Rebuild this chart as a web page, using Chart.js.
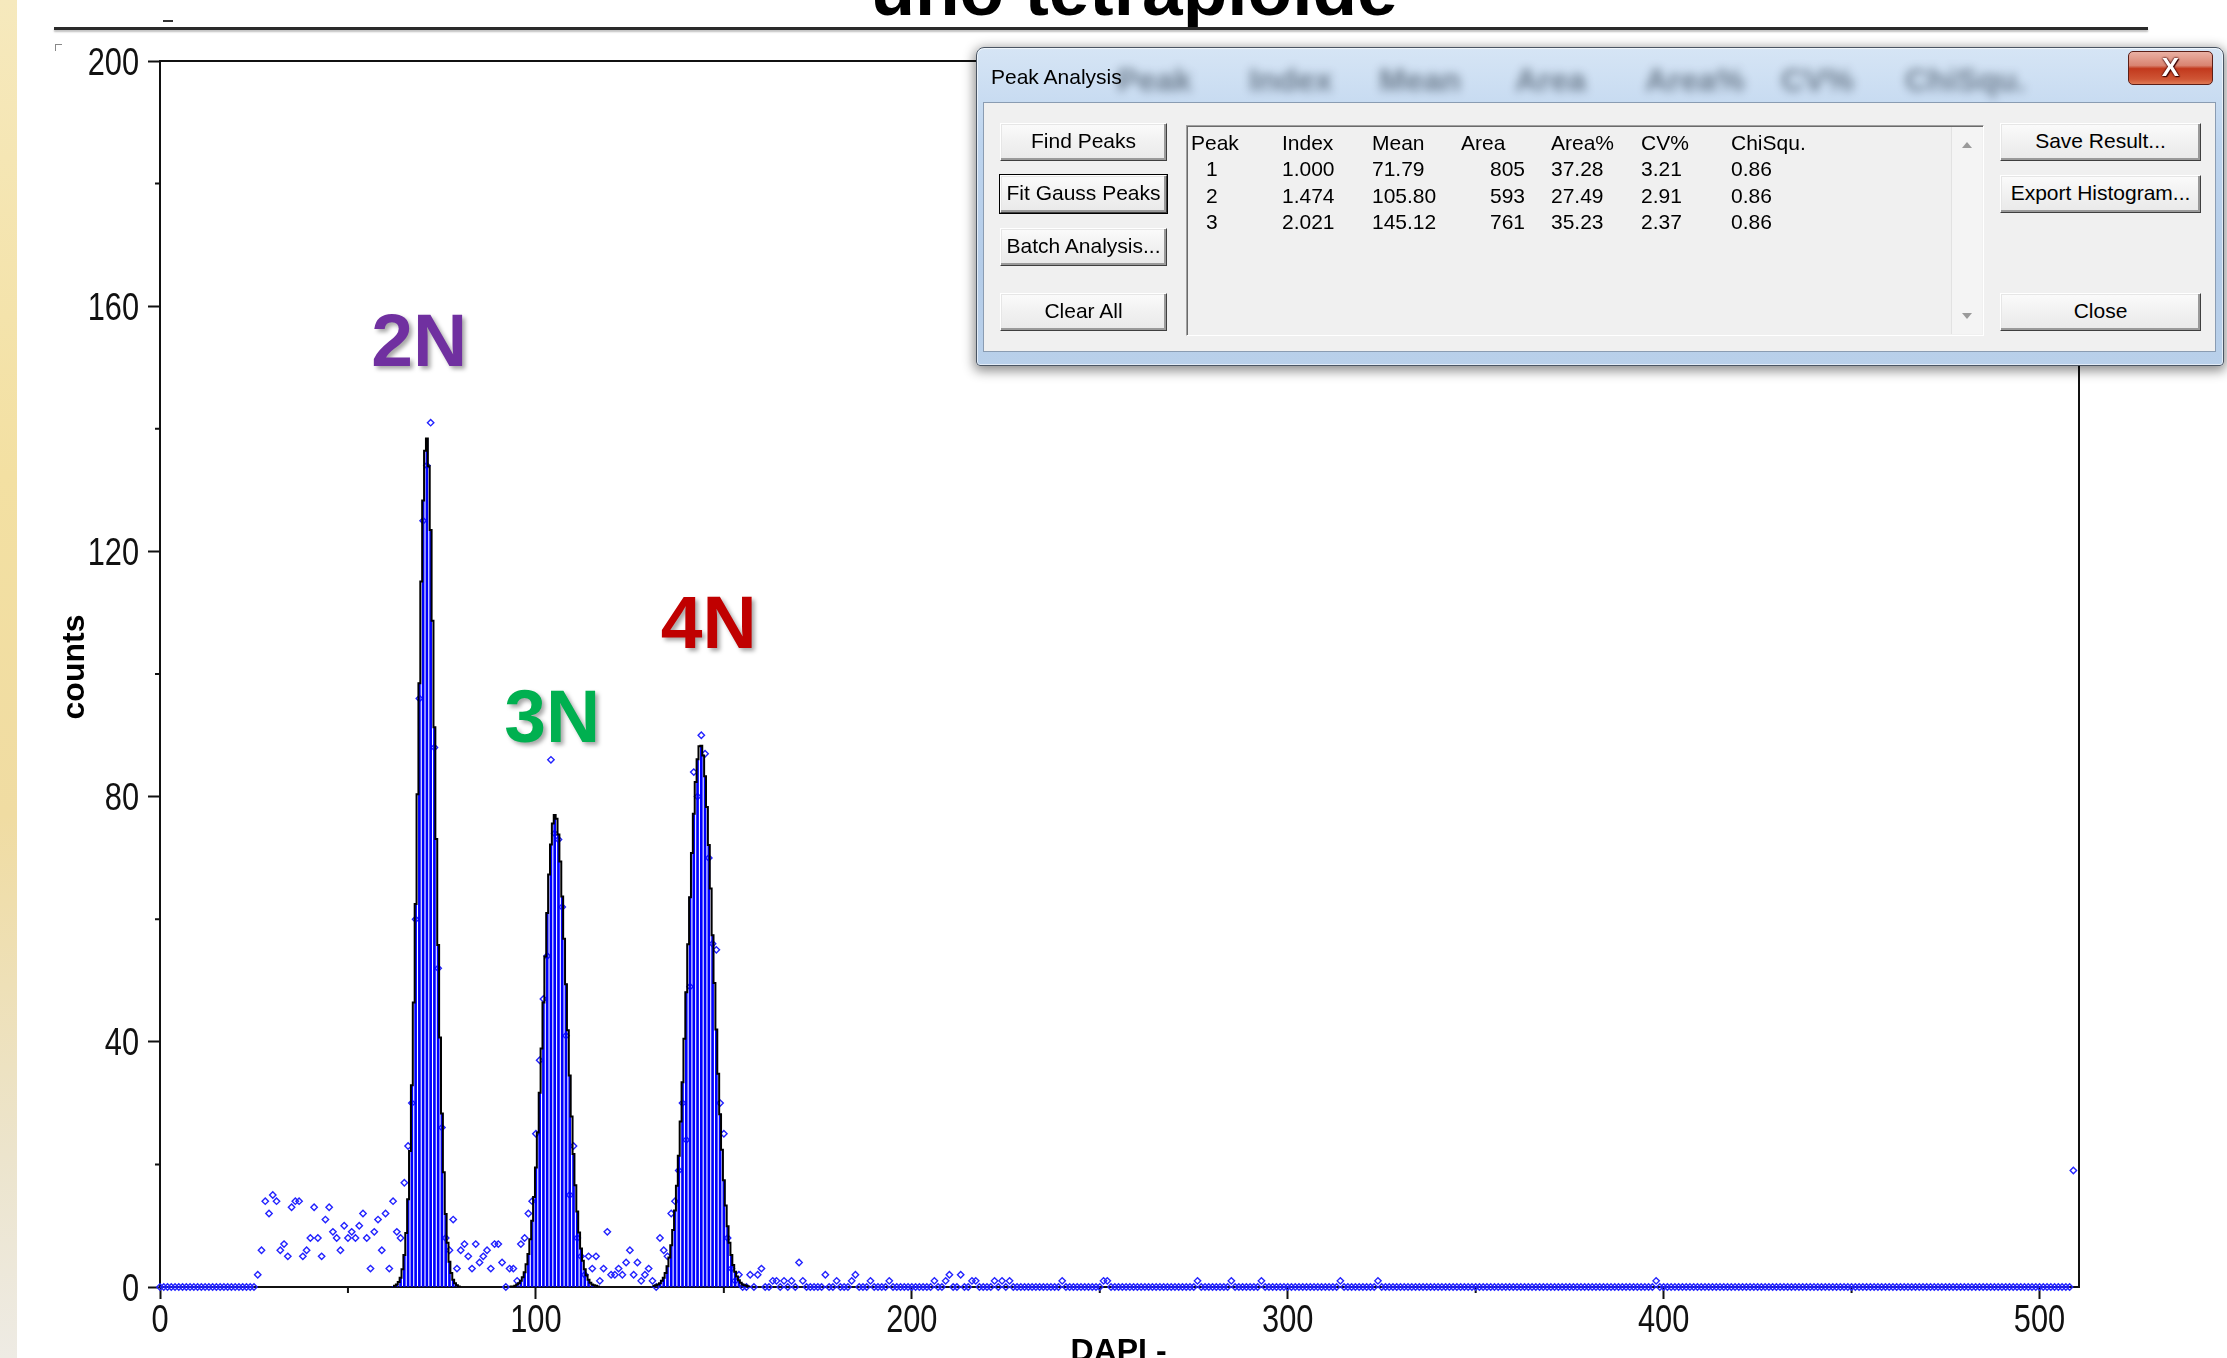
<!DOCTYPE html>
<html>
<head>
<meta charset="utf-8">
<title>DAPI - counts</title>
<script src="https://cdn.jsdelivr.net/npm/chart.js@4.4.1/dist/chart.umd.min.js"></script>
<style>
  html, body { margin: 0; padding: 0; background: #fff; }
  body { width: 2227px; height: 1358px; position: relative; overflow: hidden; font-family: "Liberation Sans", Arial, sans-serif; }
  #strip { position: absolute; left: 0; top: 0; width: 17px; height: 1358px;
    background: linear-gradient(#f6e9bd, #f3e0a2 35%, #f0dca2 60%, #ece4cc 85%, #eeebe4); }
  #title { position: absolute; left: 0; width: 2268px; top: -52px; text-align: center;
    font: bold 73px "Liberation Sans", Arial, sans-serif; line-height: 84px; color: #000; }
  #rule { position: absolute; left: 54px; top: 27px; width: 2094px; height: 3px; background: #2a2a2a;
    box-shadow: 0 2px 2px rgba(0,0,0,0.25); }
  #dash { position: absolute; left: 163px; top: 20px; width: 10px; height: 2px; background: #333; }
  #corner { position: absolute; left: 55px; top: 44px; width: 6px; height: 6px; border-left: 1px solid #888; border-top: 1px solid #888; }
  #wrap { position: absolute; left: 0; top: 0; width: 2227px; height: 1358px; }

  #dlg { position: absolute; left: 976px; top: 47px; width: 1248px; height: 319px; box-sizing: border-box;
    border: 1px solid #4a5563; border-radius: 8px 8px 4px 4px;
    background: linear-gradient(#d6e5f5, #bdd4ee 30%, #b4cce8 70%, #b9d0ea);
    box-shadow: 0 3px 12px 2px rgba(0,0,0,0.45), inset 0 0 0 1px rgba(255,255,255,0.6); z-index: 5; }
  #ghost { position: absolute; left: 0; top: 14px; width: 100%; height: 44px; filter: blur(5px); opacity: 0.6; }
  #ghost span { position: absolute; top: 0; font: bold 32px "Liberation Sans", Arial, sans-serif; color: #2c3a4a; }
  #dlgTitle { position: absolute; left: 14px; top: 17px; font-size: 21px; line-height: 24px; color: #000; }
  #xbtn { position: absolute; left: 1151px; top: 3px; width: 85px; height: 34px; box-sizing: border-box;
    border: 1px solid #5c1f17; border-radius: 5px;
    background: linear-gradient(#eab1a4, #d98471 42%, #c2391d 52%, #cf5535 85%, #e07a55);
    color: #fff; font: bold 26px "Liberation Sans", Arial, sans-serif; text-align: center; line-height: 31px;
    text-shadow: 0 0 2px #400, 0 0 2px #400, 1px 1px 1px #300; }
  #client { position: absolute; left: 6px; top: 54px; width: 1233px; height: 250px; box-sizing: border-box;
    background: #f0f0f0; border: 1px solid #8a9cb2; }
  .btn { position: absolute; box-sizing: border-box; width: 167px; height: 38px;
    background: linear-gradient(#fbfbfb, #f1f1f1 50%, #e9e9e9);
    border: 1px solid; border-color: #ffffff #3f3f3f #3f3f3f #ffffff;
    box-shadow: inset -2px -2px 0 #9a9a9a, inset 1px 1px 0 #e6e6e6;
    font-size: 21px; line-height: 34px; text-align: center; color: #000; white-space: nowrap; }
  .btn.def { outline: 1px solid #000; }
  .btn.r { width: 201px; }
  #list { position: absolute; left: 202px; top: 22px; width: 798px; height: 211px; box-sizing: border-box;
    background: #f0f0f0; border: 1px solid; border-color: #a0a0a0 #ffffff #ffffff #a0a0a0;
    box-shadow: inset 1px 1px 0 #6a6a6a; font-size: 21px; color: #000; }
  #list .c { position: absolute; line-height: 26px; white-space: nowrap; }
  #scroll { position: absolute; right: 1px; top: 1px; width: 30px; height: 207px; background: #f4f4f4; border-left: 1px solid #e2e2e2; }
  #scroll .up, #scroll .dn { position: absolute; left: 10px; width: 0; height: 0; border-left: 5px solid transparent; border-right: 5px solid transparent; }
  #scroll .up { top: 15px; border-bottom: 6px solid #9a9a9a; }
  #scroll .dn { top: 186px; border-top: 6px solid #9a9a9a; }
</style>
</head>
<body>
<div id="strip"></div>
<div id="title">uno tetraploide</div>
<div id="rule"></div>
<div id="dash"></div>
<div id="corner"></div>
<div id="wrap"><canvas id="dapiChart"></canvas></div>

<div id="dlg">
  <div id="ghost"></div>
  <div id="dlgTitle">Peak Analysis</div>
  <div id="xbtn">X</div>
  <div id="client">
    <div class="btn" style="left:16px; top:20px;">Find Peaks</div>
    <div class="btn def" style="left:16px; top:72px;">Fit Gauss Peaks</div>
    <div class="btn" style="left:16px; top:125px;">Batch Analysis...</div>
    <div class="btn" style="left:16px; top:190px;">Clear All</div>
    <div id="list"><div id="scroll"><div class="up"></div><div class="dn"></div></div></div>
    <div class="btn r" style="left:1016px; top:20px;">Save Result...</div>
    <div class="btn r" style="left:1016px; top:72px;">Export Histogram...</div>
    <div class="btn r" style="left:1016px; top:190px;">Close</div>
  </div>
</div>

<script>
// counts per DAPI channel (index = channel)
const channelCounts = [
  0, 0, 0, 0, 0, 0, 0, 0, 0, 0, 0, 0, 0, 0, 0, 0,
  0, 0, 0, 0, 0, 0, 0, 0, 0, 0, 2, 6, 14, 12, 15, 14,
  6, 7, 5, 13, 14, 14, 5, 6, 8, 13, 8, 5, 11, 13, 9, 8,
  6, 10, 8, 9, 8, 10, 12, 8, 3, 9, 11, 6, 12, 3, 14, 9,
  8, 17, 23, 30, 60, 96, 125, 134, 141, 88, 52, 26, 8, 6, 11, 3,
  6, 7, 5, 3, 7, 4, 5, 6, 3, 7, 7, 4, 0, 3, 3, 1,
  7, 8, 12, 14, 25, 37, 47, 54, 86, 74, 73, 62, 41, 15, 23, 8,
  5, 2, 5, 3, 5, 1, 3, 9, 2, 2, 3, 2, 4, 6, 2, 4,
  1, 2, 3, 1, 0, 8, 6, 5, 12, 14, 19, 30, 24, 49, 84, 80,
  90, 87, 70, 56, 55, 30, 25, 8, 3, 1, 2, 0, 0, 2, 0, 2,
  3, 0, 0, 1, 1, 0, 1, 0, 1, 0, 4, 1, 0, 0, 0, 0,
  0, 2, 0, 0, 1, 0, 0, 0, 1, 2, 0, 0, 0, 1, 0, 0,
  0, 0, 1, 0, 0, 0, 0, 0, 0, 0, 0, 0, 0, 0, 1, 0,
  0, 1, 2, 0, 0, 2, 0, 0, 1, 1, 0, 0, 0, 0, 1, 0,
  1, 0, 1, 0, 0, 0, 0, 0, 0, 0, 0, 0, 0, 0, 0, 0,
  1, 0, 0, 0, 0, 0, 0, 0, 0, 0, 0, 1, 1, 0, 0, 0,
  0, 0, 0, 0, 0, 0, 0, 0, 0, 0, 0, 0, 0, 0, 0, 0,
  0, 0, 0, 0, 1, 0, 0, 0, 0, 0, 0, 0, 0, 1, 0, 0,
  0, 0, 0, 0, 0, 1, 0, 0, 0, 0, 0, 0, 0, 0, 0, 0,
  0, 0, 0, 0, 0, 0, 0, 0, 0, 0, 1, 0, 0, 0, 0, 0,
  0, 0, 0, 0, 1, 0, 0, 0, 0, 0, 0, 0, 0, 0, 0, 0,
  0, 0, 0, 0, 0, 0, 0, 0, 0, 0, 0, 0, 0, 0, 0, 0,
  0, 0, 0, 0, 0, 0, 0, 0, 0, 0, 0, 0, 0, 0, 0, 0,
  0, 0, 0, 0, 0, 0, 0, 0, 0, 0, 0, 0, 0, 0, 0, 0,
  0, 0, 0, 0, 0, 0, 0, 0, 0, 0, 0, 0, 0, 0, 1, 0,
  0, 0, 0, 0, 0, 0, 0, 0, 0, 0, 0, 0, 0, 0, 0, 0,
  0, 0, 0, 0, 0, 0, 0, 0, 0, 0, 0, 0, 0, 0, 0, 0,
  0, 0, 0, 0, 0, 0, 0, 0, 0, 0, 0, 0, 0, 0, 0, 0,
  0, 0, 0, 0, 0, 0, 0, 0, 0, 0, 0, 0, 0, 0, 0, 0,
  0, 0, 0, 0, 0, 0, 0, 0, 0, 0, 0, 0, 0, 0, 0, 0,
  0, 0, 0, 0, 0, 0, 0, 0, 0, 0, 0, 0, 0, 0, 0, 0,
  0, 0, 0, 0, 0, 0, 0, 0, 0, 0, 0, 0, 0, 19,
];

// gauss fit outlines, sampled every half channel
const fitStep = 0.5;
const peak1Start = 62;
const peak1Fit = [
  0.1, 0.2, 0.4, 0.8, 1.5, 2.9, 5.2, 8.8, 14.3, 22.2, 32.9, 46.4, 62.5, 80.4, 98.5, 115.1,
  128.3, 136.4, 138.4, 133.9, 123.5, 108.7, 91.3, 73.1, 55.8, 40.7, 28.3, 18.7, 11.9, 7.2,
  4.1, 2.3, 1.2, 0.6, 0.3, 0.1, 0,
];
const peak2Start = 93;
const peak2Fit = [
  0, 0.1, 0.1, 0.2, 0.4, 0.6, 1.0, 1.6, 2.4, 3.7, 5.4, 7.8, 10.8, 14.7, 19.5, 25.2,
  31.7, 38.9, 46.4, 53.9, 61.0, 67.3, 72.2, 75.6, 77.0, 76.4, 73.8, 69.4, 63.7, 56.8,
  49.4, 41.9, 34.5, 27.8, 21.7, 16.6, 12.3, 8.9, 6.3, 4.3, 2.9, 1.9, 1.2, 0.7, 0.4,
  0.3, 0.2, 0.1, 0,
];
const peak3Start = 131;
const peak3Fit = [
  0.1, 0.2, 0.3, 0.4, 0.6, 1.0, 1.5, 2.3, 3.4, 4.8, 6.8, 9.3, 12.5, 16.5, 21.4, 27.0,
  33.4, 40.5, 48.1, 55.9, 63.6, 70.8, 77.2, 82.4, 86.1, 88.2, 88.3, 86.7, 83.3, 78.3,
  72.1, 65.0, 57.4, 49.6, 42.0, 34.8, 28.2, 22.4, 17.4, 13.3, 9.9, 7.2, 5.2, 3.6, 2.5,
  1.7, 1.1, 0.7, 0.4, 0.3, 0.2, 0.1, 0,
];

const xMinorTicks = [50, 150, 250, 350, 450];
const yMinorTicks = [20, 60, 100, 140, 180];
const peakNames = ["2N", "3N", "4N"];

// peak analysis table
const peakNumbers = [1, 2, 3];
const peakIndex = [1.0, 1.474, 2.021];
const peakMean = [71.79, 105.8, 145.12];
const peakArea = [805, 593, 761];
const peakAreaPct = [37.28, 27.49, 35.23];
const peakCV = [3.21, 2.91, 2.37];
const peakChiSq = [0.86, 0.86, 0.86];
const tableHeader = ["Peak", "Index", "Mean", "Area", "Area%", "CV%", "ChiSqu."];

const tickFont = "'Liberation Sans', Arial, sans-serif";
const boldFont = "'Liberation Sans', Arial, sans-serif";

function fitPoints(start, values) {
  return values.map((v, i) => ({ x: start + i * fitStep, y: v }));
}

const fits = [fitPoints(peak1Start, peak1Fit), fitPoints(peak2Start, peak2Fit), fitPoints(peak3Start, peak3Fit)];
const fitBars = fits.flat().filter((p) => Number.isInteger(p.x) && p.y > 0);
const countPoints = channelCounts.map((c, i) => ({ x: i, y: c }));

const fitDatasets = fits.map((pts) => ({
  type: "line",
  data: pts,
  borderColor: "#000",
  borderWidth: 2,
  pointRadius: 0,
  stepped: "middle",
  fill: false,
  order: 1,
}));

const extras = {
  id: "extras",
  beforeDatasetsDraw(chart) {
    const { ctx, chartArea: a, scales: { x, y } } = chart;
    ctx.save();
    ctx.strokeStyle = "#111";
    ctx.lineWidth = 2;
    ctx.beginPath();
    ctx.moveTo(a.left, a.top);
    ctx.lineTo(a.right, a.top);
    ctx.lineTo(a.right, a.bottom);
    xMinorTicks.forEach((v) => {
      const px = x.getPixelForValue(v);
      ctx.moveTo(px, a.bottom);
      ctx.lineTo(px, a.bottom + 6);
    });
    yMinorTicks.forEach((v) => {
      const py = y.getPixelForValue(v);
      ctx.moveTo(a.left, py);
      ctx.lineTo(a.left - 5, py);
    });
    ctx.stroke();

    // tick labels: tall condensed digits like the screenshot
    ctx.fillStyle = "#111";
    ctx.font = "38px " + tickFont;
    ctx.textBaseline = "alphabetic";
    x.ticks.forEach((t) => {
      ctx.save();
      ctx.translate(x.getPixelForValue(t.value), a.bottom + 45);
      ctx.scale(0.81, 1);
      ctx.textAlign = "center";
      ctx.fillText(String(t.value), 0, 0);
      ctx.restore();
    });
    y.ticks.forEach((t) => {
      ctx.save();
      ctx.translate(a.left - 21, y.getPixelForValue(t.value) + 13.5);
      ctx.scale(0.81, 1);
      ctx.textAlign = "right";
      ctx.fillText(String(t.value), 0, 0);
      ctx.restore();
    });

    ctx.fillStyle = "#000";
    ctx.font = "bold 32px " + boldFont;
    ctx.textAlign = "center";
    ctx.textBaseline = "middle";
    ctx.save();
    ctx.translate(75, 667);
    ctx.rotate(-Math.PI / 2);
    ctx.fillText("counts", 0, 0);
    ctx.restore();
    ctx.textBaseline = "alphabetic";
    ctx.fillText("DAPI -", x.getPixelForValue(255), 1361);
    ctx.restore();
  },
  afterDatasetsDraw(chart) {
    const { ctx, scales: { x, y } } = chart;
    const anchors = [[56.2, 150.2, "#7030a0"], [91.6, 88.9, "#00b050"], [133.2, 104.2, "#c00000"]];
    ctx.save();
    ctx.font = "bold 75px " + boldFont;
    ctx.textAlign = "left";
    ctx.textBaseline = "alphabetic";
    ctx.shadowColor = "rgba(0,0,0,0.35)";
    ctx.shadowOffsetX = 3;
    ctx.shadowOffsetY = 3;
    ctx.shadowBlur = 4;
    peakNames.forEach((name, i) => {
      const [cx, cy, col] = anchors[i];
      ctx.fillStyle = col;
      ctx.fillText(name, x.getPixelForValue(cx), y.getPixelForValue(cy));
    });
    ctx.restore();
  },
};

const config = {
  type: "scatter",
  data: {
    datasets: [
      ...fitDatasets,
      {
        type: "bar",
        data: fitBars,
        backgroundColor: "#0000ff",
        barThickness: 2,
        order: 2,
      },
      {
        type: "scatter",
        data: countPoints,
        pointStyle: "rectRot",
        pointRadius: 3.2,
        borderWidth: 1.4,
        borderColor: "#2222ff",
        backgroundColor: "rgba(255,255,255,0)",
        clip: false,
        order: 3,
      },
    ],
  },
  options: {
    responsive: true,
    maintainAspectRatio: false,
    animation: false,
    events: [],
    layout: { padding: { left: 0, top: 61, right: 148, bottom: 0 } },
    plugins: {
      legend: { display: false },
      tooltip: { enabled: false },
    },
    scales: {
      x: {
        type: "linear",
        min: 0,
        max: 510.5,
        offset: false,
        afterFit: (s) => { s.height = 71; },
        ticks: {
          display: false,
          stepSize: 100,
          includeBounds: false,
          autoSkip: false,
          maxRotation: 0,
        },
        grid: { offset: false, drawOnChartArea: false, tickLength: 12, tickWidth: 2, tickColor: "#111" },
        border: { color: "#111", width: 2 },
      },
      y: {
        min: 0,
        max: 200,
        afterFit: (s) => { s.width = 160; },
        ticks: {
          display: false,
          stepSize: 40,
          includeBounds: false,
        },
        grid: { drawOnChartArea: false, tickLength: 12, tickWidth: 2, tickColor: "#111" },
        border: { color: "#111", width: 2 },
      },
    },
  },
  plugins: [extras],
};

new Chart(document.getElementById("dapiChart"), config);

// dialog table and the blurred glass behind the title bar
const list = document.getElementById("list");
const colLeft = [4, 95, 185, 274, 364, 454, 544];
function cell(text, left, top, right) {
  const d = document.createElement("div");
  d.className = "c";
  d.textContent = text;
  d.style.top = top + "px";
  if (right) {
    d.style.left = (left - 80) + "px";
    d.style.width = "80px";
    d.style.textAlign = "right";
  } else {
    d.style.left = left + "px";
  }
  list.appendChild(d);
}
tableHeader.forEach((h, i) => cell(h, colLeft[i], 4));
peakNumbers.forEach((n, r) => {
  const top = 30 + r * 26.7;
  cell(String(n), 19, top);
  cell(peakIndex[r].toFixed(3), colLeft[1], top);
  cell(peakMean[r].toFixed(2), colLeft[2], top);
  cell(String(peakArea[r]), 338, top, true);
  cell(peakAreaPct[r].toFixed(2), colLeft[4], top);
  cell(peakCV[r].toFixed(2), colLeft[5], top);
  cell(peakChiSq[r].toFixed(2), colLeft[6], top);
});

const ghost = document.getElementById("ghost");
const ghostLeft = [140, 272, 402, 538, 668, 804, 928];
tableHeader.forEach((h, i) => {
  const s = document.createElement("span");
  s.textContent = h;
  s.style.left = ghostLeft[i] + "px";
  ghost.appendChild(s);
});
</script>
</body>
</html>
